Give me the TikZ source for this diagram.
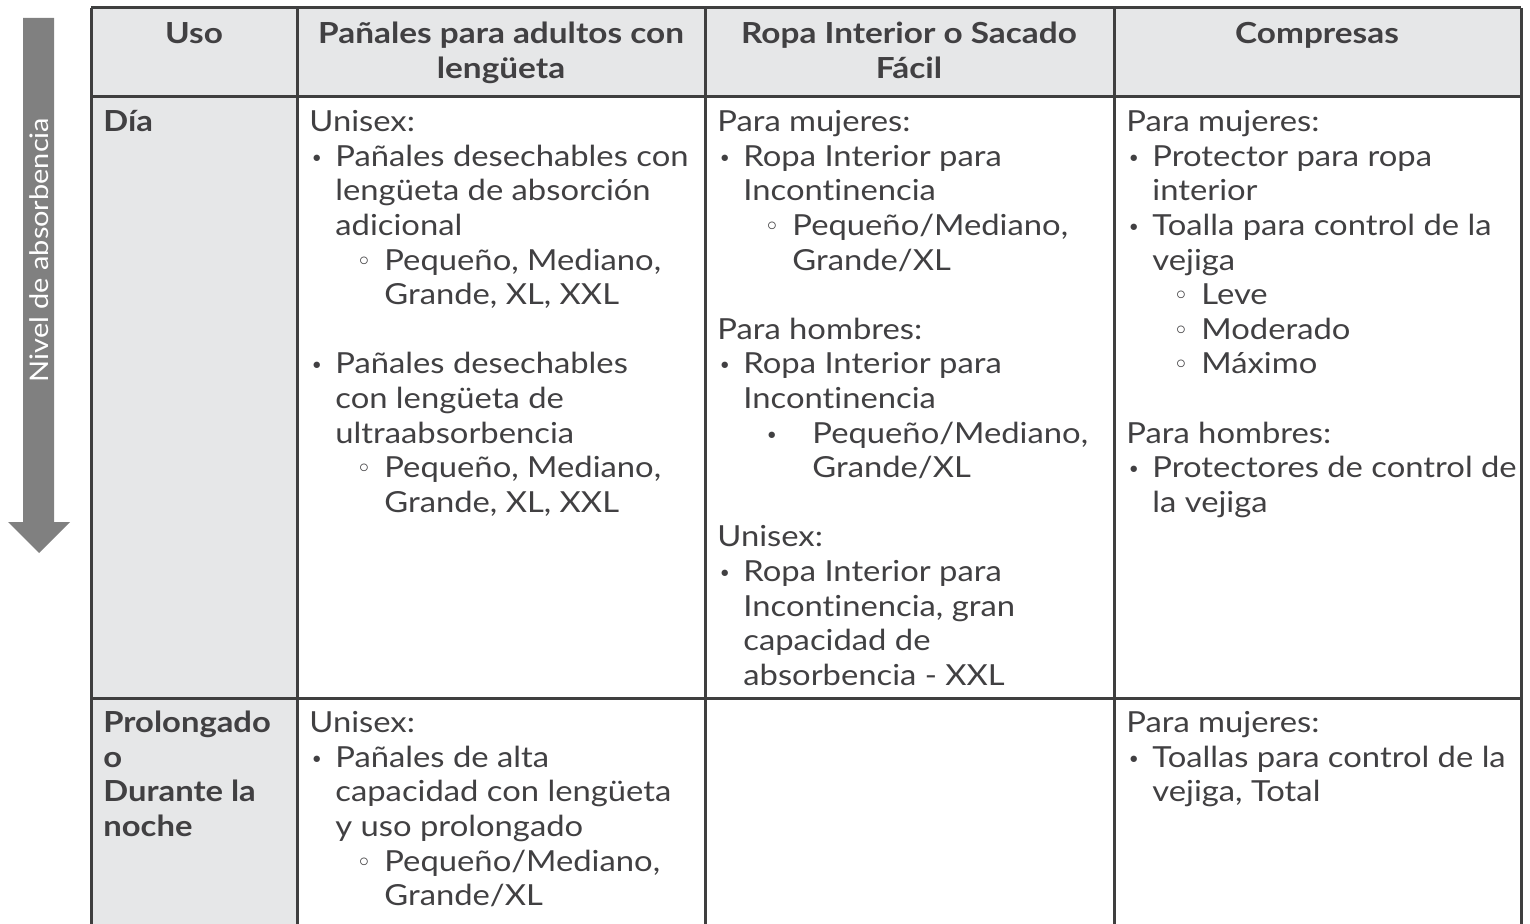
\documentclass[tikz,border=0pt]{standalone}
\usepackage{fontspec}
\setmainfont{Lato}[FakeStretch=1.13, Ligatures=NoCommon]
\newfontfamily\symfont{DejaVu Sans}
\usetikzlibrary{positioning}

\definecolor{linegrey}{HTML}{3F3F3F}
\definecolor{cellgrey}{HTML}{E6E7E8}
\definecolor{textgrey}{HTML}{414042}
\definecolor{arrowgrey}{HTML}{808080}

% list marks
\newcommand\dotitem{\makebox[13pt][l]{\hspace{0.5pt}{\symfont\fontsize{11pt}{11pt}\selectfont •}}}
\newcommand\circitem{\hspace*{23.5pt}\makebox[14pt][l]{{\symfont\fontsize{13pt}{13pt}\selectfont ◦}}}
\newcommand\wideitem{\hspace*{24pt}\makebox[23.5pt][l]{{\symfont\fontsize{11pt}{11pt}\selectfont •}}}
\newcommand\contone{\hspace*{13pt}}
\newcommand\conttwo{\hspace*{37.5pt}}
\newcommand\contthree{\hspace*{47.5pt}}

\begin{document}
\begin{tikzpicture}[x=0.5pt, y=-0.5pt, text=textgrey,
    cell/.style={anchor=north west, align=left, inner sep=0pt, font=\fontsize{14.5pt}{17.3pt}\selectfont},
    head/.style={anchor=north, align=center, inner sep=0pt, font=\bfseries\fontsize{14.5pt}{17.3pt}\selectfont\addfontfeature{FakeStretch=1.15}},
    side/.style={cell, font=\bfseries\fontsize{14.5pt}{17.3pt}\selectfont},
    grid line/.style={linegrey, line width=1.5pt}]
\useasboundingbox (0,0) rectangle (1530,924);

% arrow
\fill[arrowgrey] (23,18) -- (54,18) -- (54,522) -- (70,522) -- (39,553) -- (8,522) -- (23,522) -- cycle;
\node[rotate=90, text=white, inner sep=0pt, font=\fontsize{12.8pt}{12.8pt}\selectfont] (level) at (39,250) {Nivel de absorbencia};

% table
\fill[cellgrey] (91,8) rectangle (1521,97);
\fill[cellgrey] (91,97) rectangle (297,924);
\foreach \y in {8,97,698}
    \draw[grid line] (91,\y) -- (1521,\y);
\foreach \x in {91,297,705,1114,1521}
    \draw[grid line] (\x,8) -- (\x,924);

% header row
\node[head] (uso) at (194,19) {\strut Uso};
\node[head] (panales) at (501,19) {\strut Pañales para adultos con\\lengüeta};
\node[head] (ropa) at (909,19) {\strut Ropa Interior o Sacado\\Fácil};
\node[head] (compresas) at (1317,19) {\strut Compresas};

% day row
\node[side] (dia) at (103,107) {\strut Día};
\node[cell] (dia panales) at (309,107) {\strut Unisex:\\
    \dotitem Pañales desechables con\\
    \contone lengüeta de absorción\\
    \contone adicional\\
    \circitem Pequeño, Mediano,\\
    \conttwo Grande, XL, XXL\\[17.3pt]
    \dotitem Pañales desechables\\
    \contone con lengüeta de\\
    \contone ultraabsorbencia\\
    \circitem Pequeño, Mediano,\\
    \conttwo Grande, XL, XXL};
\node[cell] (dia ropa) at (717,107) {\strut Para mujeres:\\
    \dotitem Ropa Interior para\\
    \contone Incontinencia\\
    \circitem Pequeño/Mediano,\\
    \conttwo Grande/XL\\[17.3pt]
    Para hombres:\\
    \dotitem Ropa Interior para\\
    \contone Incontinencia\\
    \wideitem Pequeño/Mediano,\\
    \contthree Grande/XL\\[17.3pt]
    Unisex:\\
    \dotitem Ropa Interior para\\
    \contone Incontinencia, gran\\
    \contone capacidad de\\
    \contone absorbencia - XXL};
\node[cell] (dia compresas) at (1126,107) {\strut Para mujeres:\\
    \dotitem Protector para ropa\\
    \contone interior\\
    \dotitem Toalla para control de la\\
    \contone vejiga\\
    \circitem Leve\\
    \circitem Moderado\\
    \circitem Máximo\\[17.3pt]
    Para hombres:\\
    \dotitem Protectores de control de\\
    \contone la vejiga};

% night row
\node[side] (noche) at (103,708) {\strut Prolongado\\o\\Durante la\\noche};
\node[cell] (noche panales) at (309,708) {\strut Unisex:\\
    \dotitem Pañales de alta\\
    \contone capacidad con lengüeta\\
    \contone y uso prolongado\\
    \circitem Pequeño/Mediano,\\
    \conttwo Grande/XL};
\node[cell] (noche compresas) at (1126,708) {\strut Para mujeres:\\
    \dotitem Toallas para control de la\\
    \contone vejiga, Total};
\end{tikzpicture}
\end{document}
